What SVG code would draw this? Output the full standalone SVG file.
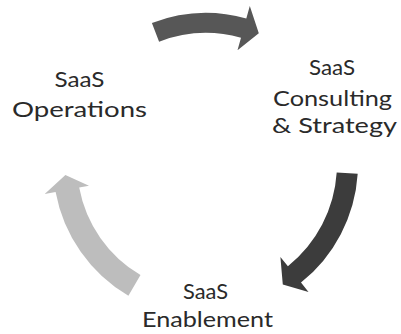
<svg xmlns="http://www.w3.org/2000/svg" width="401" height="334" viewBox="0 0 401 334">
  <style>
    .lbl { font-family: "Lato", "Liberation Sans", sans-serif; font-size: 21px; fill: #2a2a2a; text-anchor: middle; }
    .arr { stroke: none; }
  </style>
  <rect width="401" height="334" fill="#ffffff"/>
  <g id="connectors">
    <path id="arrow-top" class="arr" fill="#575757" d="M151.9,23.0 A151,151 0 0 1 246.3,18.5 L249.8,6.0 L258.8,33.3 L237.5,50.3 L241.0,37.8 A131,131 0 0 0 159.1,41.7 Z"/>
    <path id="arrow-right" class="arr" fill="#3c3c3c" d="M336.7,172.5 L357.7,173.8 A152,152 0 0 1 301.0,282.6 L308.5,292.0 L282.8,284.6 L280.4,256.9 L287.9,266.2 A131,131 0 0 0 336.7,172.5 Z"/>
    <path id="arrow-left" class="arr" fill="#bdbdbd" d="M128.4,295.8 A153,153 0 0 1 55.6,191.9 L44.7,193.9 L65.4,175.1 L89.0,185.7 L79.2,187.5 A129,129 0 0 0 140.5,275.1 Z"/>
  </g>
  <g id="node-operations">
    <text class="lbl" x="79.5" y="87" textLength="50" lengthAdjust="spacingAndGlyphs">SaaS</text>
    <text class="lbl" x="79.5" y="117" textLength="135" lengthAdjust="spacingAndGlyphs">Operations</text>
  </g>
  <g id="node-consulting">
    <text class="lbl" x="332" y="75" textLength="46" lengthAdjust="spacingAndGlyphs">SaaS</text>
    <text class="lbl" x="332.5" y="106" textLength="119" lengthAdjust="spacingAndGlyphs">Consulting</text>
    <text class="lbl" x="334.5" y="133" textLength="125" lengthAdjust="spacingAndGlyphs">&amp; Strategy</text>
  </g>
  <g id="node-enablement">
    <text class="lbl" x="205.5" y="299" textLength="45" lengthAdjust="spacingAndGlyphs">SaaS</text>
    <text class="lbl" x="207.5" y="327" textLength="131" lengthAdjust="spacingAndGlyphs">Enablement</text>
  </g>
</svg>
